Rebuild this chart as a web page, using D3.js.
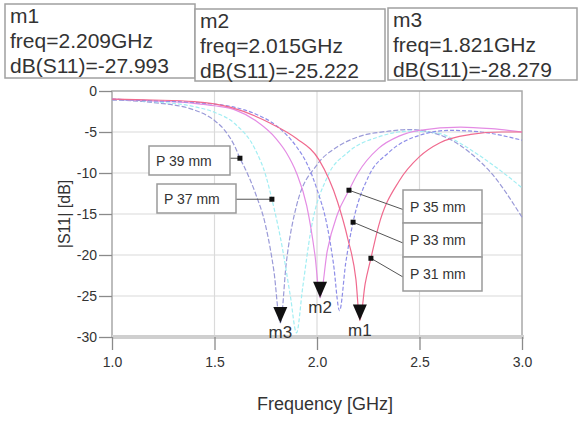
<!DOCTYPE html>
<html>
<head>
<meta charset="utf-8">
<script src="https://cdn.jsdelivr.net/npm/d3@7"></script>
<style>
  body { margin: 0; background: #fff; }
  text { font-family: Arial, "Liberation Sans", sans-serif; }
</style>
</head>
<body>
<div id="container"></div>
<script>
// ---- data ----
const xTicks = [1.0, 1.5, 2.0, 2.5, 3.0];
const yTicks = [0, -5, -10, -15, -20, -25, -30];

const seriesNames = ["P 39 mm", "P 37 mm", "P 35 mm", "P 33 mm", "P 31 mm"];

const freq39 = [1.0, 1.2, 1.4, 1.5, 1.55, 1.6, 1.624, 1.65, 1.7, 1.75, 1.79, 1.821, 1.85, 1.9, 2.0, 2.1, 2.2, 2.35, 2.45, 2.55, 2.65, 2.75, 2.85, 3.0];
const db39   = [-1.1, -1.4, -2.3, -3.6, -4.8, -6.8, -8.2, -9.5, -12.5, -16.5, -22, -28.279, -21, -14, -9, -6.8, -5.6, -4.9, -4.7, -5.0, -5.9, -7.6, -10, -15.4];

const freq37 = [1.0, 1.2, 1.4, 1.5, 1.6, 1.7, 1.75, 1.78, 1.83, 1.87, 1.9, 1.93, 1.97, 2.05, 2.15, 2.3, 2.45, 2.6, 2.7, 2.8, 2.9, 3.0];
const db37   = [-1.0, -1.3, -1.9, -2.6, -4.0, -7.2, -10.3, -13.2, -19, -25, -29.5, -24, -17, -10.5, -7.5, -5.6, -4.9, -5.2, -6.4, -8.0, -9.8, -11.8];

const freq35 = [1.0, 1.2, 1.4, 1.5, 1.6, 1.7, 1.8, 1.85, 1.9, 1.95, 1.99, 2.015, 2.05, 2.1, 2.156, 2.2, 2.3, 2.4, 2.5, 2.7, 2.85, 3.0];
const db35   = [-1.0, -1.2, -1.5, -1.8, -2.3, -3.6, -5.8, -7.5, -10, -14, -20, -25.222, -19.5, -15, -12.1, -10, -7, -5.5, -4.8, -4.4, -4.6, -5.0];

const freq33 = [1.0, 1.2, 1.4, 1.6, 1.7, 1.8, 1.9, 1.95, 2.0, 2.05, 2.08, 2.11, 2.14, 2.176, 2.25, 2.35, 2.5, 2.65, 2.8, 3.0];
const db33   = [-1.0, -1.2, -1.4, -2.0, -2.8, -4.2, -6.8, -8.8, -12, -16.5, -21, -26.8, -21, -16, -10.5, -7.5, -5.4, -4.8, -5.0, -6.0];

const freq31 = [1.0, 1.2, 1.4, 1.58, 1.77, 1.9, 2.01, 2.1, 2.15, 2.19, 2.209, 2.235, 2.263, 2.3, 2.4, 2.5, 2.6, 2.75, 2.9, 3.0];
const db31   = [-1.0, -1.1, -1.3, -2.0, -3.9, -5.8, -8.4, -13.5, -18, -23, -27.993, -23.5, -20.4, -16.5, -11, -8, -6.3, -5.3, -5.0, -5.0];

// where each label arrow touches its curve (frequency, GHz)
const labelFreq = [1.624, 1.78, 2.156, 2.176, 2.263];

// markers
const markerNames = ["m1", "m2", "m3"];
const markerFreq  = [2.209, 2.015, 1.821];
const markerDb    = [-27.993, -25.222, -28.279];

// ---- layout ----
const W = 580, H = 423;
const plot = {left: 112, right: 522, top: 91, bottom: 337};

const svg = d3.select("#container").append("svg")
  .attr("width", W).attr("height", H);

const x = d3.scaleLinear().domain([1, 3]).range([plot.left, plot.right]);
const y = d3.scaleLinear().domain([0, -30]).range([plot.top, plot.bottom]);

const color = d3.scaleOrdinal()
  .domain(seriesNames)
  .range(["#9a9ad8", "#a2eef3", "#e48ce4", "#8e8ee8", "#f06a8e"]);
const dash = ["5,2", "4,2", null, "4,2", null];

const series = [
  {name: seriesNames[0], f: freq39, d: db39},
  {name: seriesNames[1], f: freq37, d: db37},
  {name: seriesNames[2], f: freq35, d: db35},
  {name: seriesNames[3], f: freq33, d: db33},
  {name: seriesNames[4], f: freq31, d: db31}
].map(s => ({name: s.name, pts: s.f.map((f, i) => [f, s.d[i]])}));

// grid
svg.append("g").selectAll("line")
  .data(xTicks.slice(1, -1)).join("line")
  .attr("x1", d => x(d)).attr("x2", d => x(d))
  .attr("y1", plot.top).attr("y2", plot.bottom)
  .attr("stroke", "#dadada").attr("stroke-width", 1.2);
svg.append("g").selectAll("line")
  .data(yTicks.slice(1, -1)).join("line")
  .attr("x1", plot.left).attr("x2", plot.right)
  .attr("y1", d => y(d)).attr("y2", d => y(d))
  .attr("stroke", "#dadada").attr("stroke-width", 1.2);

// frame
svg.append("rect")
  .attr("x", plot.left).attr("y", plot.top)
  .attr("width", plot.right - plot.left).attr("height", plot.bottom - plot.top)
  .attr("fill", "none").attr("stroke", "#a8a8a8").attr("stroke-width", 1.5);
svg.append("line")
  .attr("x1", plot.left).attr("x2", plot.right + 2)
  .attr("y1", plot.bottom).attr("y2", plot.bottom)
  .attr("stroke", "#cfcfcf").attr("stroke-width", 4);

// axes
const xAxis = svg.append("g")
  .attr("transform", `translate(0,${plot.bottom})`)
  .call(d3.axisBottom(x).tickValues(xTicks).tickSize(13).tickPadding(7).tickFormat(d3.format(".1f")));
const yAxis = svg.append("g")
  .attr("transform", `translate(${plot.left},0)`)
  .call(d3.axisLeft(y).tickValues(yTicks).tickSize(13).tickPadding(2).tickFormat(d => d));
[xAxis, yAxis].forEach(a => {
  a.select(".domain").remove();
  a.selectAll(".tick line").attr("stroke", "#8a8a8a").attr("stroke-width", 1.3);
  a.selectAll(".tick text").attr("fill", "#333").style("font-size", "14px")
    .style("font-family", "Arial, 'Liberation Sans', sans-serif");
});

// curves
const line = d3.line()
  .x(d => x(d[0])).y(d => y(d[1]))
  .curve(d3.curveMonotoneX);

svg.append("g").selectAll("path")
  .data(series).join("path")
  .attr("d", d => line(d.pts))
  .attr("fill", "none")
  .attr("stroke", d => color(d.name))
  .attr("stroke-width", 1.2)
  .attr("stroke-dasharray", (d, i) => dash[i]);

// label boxes with leader lines
const dbAt = (s, f) => series[s].pts.find(p => p[0] === f)[1];
const labelBox = [
  {x: 149, y: 146, w: 81, h: 29, side: "right"},
  {x: 157, y: 184, w: 79, h: 29, side: "right"},
  {x: 403, y: 190, w: 79, h: 33, side: "left"},
  {x: 403, y: 223, w: 79, h: 34, side: "left"},
  {x: 403, y: 257, w: 79, h: 34, side: "left"}
];
const labels = svg.append("g");
seriesNames.forEach((name, i) => {
  const b = labelBox[i];
  const px = x(labelFreq[i]), py = y(dbAt(i, labelFreq[i]));
  const sx = b.side === "right" ? b.x + b.w : b.x;
  const sy = b.side === "right" ? py : b.y + b.h / 2 + 3;
  labels.append("line")
    .attr("x1", sx).attr("y1", sy).attr("x2", px).attr("y2", py)
    .attr("stroke", "#555").attr("stroke-width", 1);
  labels.append("rect")
    .attr("x", b.x).attr("y", b.y).attr("width", b.w).attr("height", b.h)
    .attr("fill", "#fff").attr("stroke", "#9a9a9a").attr("stroke-width", 1.5);
  labels.append("text")
    .attr("x", b.x + 7).attr("y", b.y + b.h / 2 + 5)
    .attr("fill", "#333").style("font-size", "14px")
    .text(name);
  labels.append("rect")
    .attr("x", px - 2.5).attr("y", py - 2.5).attr("width", 5).attr("height", 5)
    .attr("fill", "#111");
});

// markers
const mk = svg.append("g");
markerNames.forEach((m, i) => {
  const px = x(markerFreq[i]), py = y(markerDb[i]);
  mk.append("path")
    .attr("d", `M${px - 7},${py - 16}L${px + 7},${py - 16}L${px},${py}Z`)
    .attr("fill", "#111");
  mk.append("text")
    .attr("x", px).attr("y", py + 15)
    .attr("text-anchor", "middle")
    .attr("fill", "#333").style("font-size", "17px")
    .text(m);
});

// marker readout boxes
const readBox = [
  {x: 5, y: 4, w: 190, h: 74},
  {x: 195, y: 9, w: 190, h: 72},
  {x: 388, y: 8, w: 189, h: 72}
];
markerNames.forEach((m, i) => {
  const b = readBox[i];
  const g = svg.append("g");
  g.append("rect")
    .attr("x", b.x).attr("y", b.y).attr("width", b.w).attr("height", b.h)
    .attr("fill", "#fff").attr("stroke", "#a0a0a0").attr("stroke-width", 1.5);
  const lines = [m, `freq=${markerFreq[i].toFixed(3)}GHz`, `dB(S11)=${markerDb[i].toFixed(3)}`];
  g.selectAll("text").data(lines).join("text")
    .attr("x", b.x + 5)
    .attr("y", (d, j) => b.y + 19 + j * 25)
    .attr("fill", "#333").style("font-size", "21px")
    .text(d => d);
});

// axis titles
svg.append("text")
  .attr("x", 325).attr("y", 410)
  .attr("text-anchor", "middle").attr("fill", "#333")
  .style("font-size", "18px")
  .text("Frequency [GHz]");
svg.append("text")
  .attr("transform", `translate(70,${(plot.top + plot.bottom) / 2}) rotate(-90)`)
  .attr("text-anchor", "middle").attr("fill", "#333")
  .style("font-size", "16px")
  .text("|S11| [dB]");
</script>
</body>
</html>
